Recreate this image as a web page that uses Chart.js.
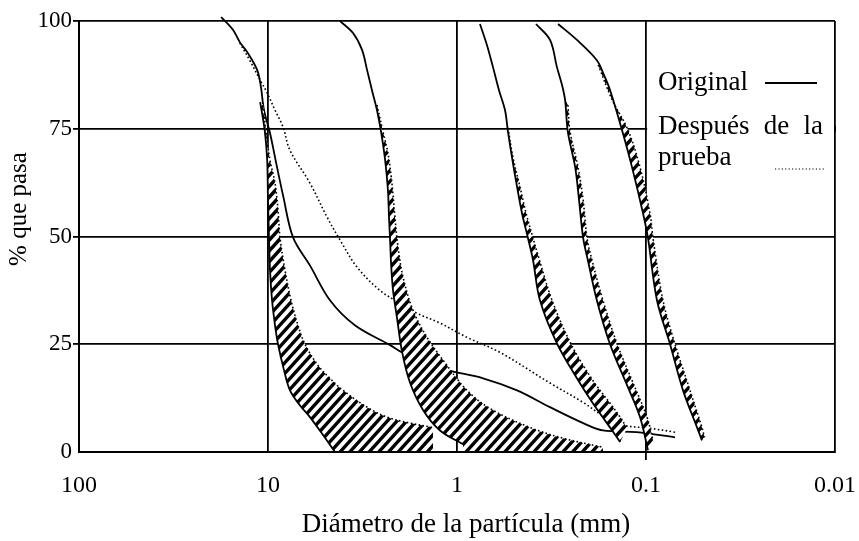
<!DOCTYPE html>
<html>
<head>
<meta charset="utf-8">
<script src="https://cdn.jsdelivr.net/npm/chart.js@4.4.0/dist/chart.umd.min.js"></script>
<style>
  html, body { margin: 0; padding: 0; background: #fff; }
  #wrap { width: 859px; height: 541px; }
</style>
</head>
<body>
<div id="wrap"><canvas id="c" width="859" height="541"></canvas></div>
<script>
// Particle size (mm) on a reversed log axis; ticks and their labels
const xTicks = [100, 10, 1, 0.1, 0.01];
const xTickLabels = ['100', '10', '1', '0.1', '0.01'];
const yTicks = [0, 25, 50, 75, 100];

const xTitle = 'Diámetro de la partícula (mm)';
const yTitle = '% que pasa';
const legendLabels = ['Original', 'Después de la prueba'];

// Grading curves as [diameter mm, % passing]
const mixOriginal = [[17.7,100.9],[15.3,97.9],[14.1,95.1],[12.8,92.6],[11.4,88.6],[10.9,84.7],[10.5,79.3],[9.76,74.0],[8.96,66.1],[8.33,59.6],[7.37,49.8],[6.00,43.3],[4.70,35.2],[3.47,29.4],[2.26,24.8],[1.95,23.1],[1.48,20.8],[1.13,19.0],[0.728,17.1],[0.481,14.3],[0.322,10.4],[0.215,6.7],[0.169,5.0],[0.112,4.6],[0.0702,3.4]];
const mixAfter = [[14.1,94.9],[12.5,90.9],[11.0,86.3],[10.1,83.3],[9.18,79.3],[8.33,75.4],[7.65,70.0],[6.00,62.4],[4.87,54.5],[4.16,49.2],[3.38,42.9],[2.56,37.5],[2.00,34.5],[1.63,32.2],[1.23,29.9],[0.885,26.6],[0.592,23.1],[0.322,16.0],[0.215,11.5],[0.161,7.8],[0.132,6.2],[0.0953,5.5],[0.0702,4.6]];

const soil1Original = [[11.0,81.2],[10.4,74.5],[10.1,67.7],[10.0,58.4],[9.88,49.8],[9.76,42.2],[9.52,35.2],[9.18,29.4],[8.85,25.0],[8.23,19.0],[7.65,14.3],[6.77,10.8],[6.00,8.1],[5.18,4.3],[4.42,0]];
const soil1After = [[10.6,80.5],[10.25,74.5],[9.76,67.7],[9.18,62.4],[8.85,56.1],[8.64,49.8],[8.13,42.2],[7.55,35.2],[6.94,29.4],[6.37,25.0],[5.44,20.1],[4.70,17.1],[4.01,14.3],[2.99,10.4],[2.35,8.1],[1.77,6.7],[1.34,5.7]];

const soil2Original = [[4.16,100],[3.55,97.2],[3.18,93.3],[2.99,88.6],[2.82,84.0],[2.65,79.3],[2.52,74.2],[2.40,67.7],[2.32,60.8],[2.29,54.5],[2.26,49.2],[2.23,43.3],[2.18,37.5],[2.08,31.3],[1.95,23.1],[1.77,16.0],[1.51,9.7],[1.23,5.0],[0.93,1.8]];
const soil2After = [[2.65,80.5],[2.46,74.2],[2.32,69.4],[2.21,62.4],[2.13,54.5],[2.05,47.5],[1.93,40.6],[1.71,32.9],[1.44,26.6],[1.13,20.1],[0.885,14.3],[0.669,10.1],[0.411,5.7],[0.275,3.2],[0.169,1.1]];

const soil3Original = [[0.756,99.3],[0.694,94.4],[0.645,89.3],[0.600,84.0],[0.557,79.3],[0.537,74.2],[0.512,68.4],[0.481,61.5],[0.453,55.4],[0.421,49.6],[0.396,44.5],[0.364,35.2],[0.296,25.2],[0.232,17.1],[0.191,11.3],[0.161,6.7],[0.137,2.3]];
const soil3After = [[0.537,75.2],[0.506,68.4],[0.464,61.5],[0.431,55.4],[0.396,49.6],[0.373,45.7],[0.314,35.2],[0.249,25.0],[0.191,16.6],[0.155,11.3],[0.137,8.1],[0.126,5.5]];

const soil4Original = [[0.382,99.3],[0.322,95.6],[0.296,89.3],[0.278,85.1],[0.268,81.7],[0.259,74.2],[0.237,66.1],[0.226,58.4],[0.215,49.6],[0.203,44.5],[0.182,35.2],[0.155,25.0],[0.126,15.5],[0.1076,8.1],[0.0976,0.4]];
const soil4After = [[0.259,80.5],[0.252,74.2],[0.229,66.1],[0.215,58.4],[0.205,49.6],[0.193,44.5],[0.169,35.2],[0.142,25.0],[0.117,16.0],[0.0988,8.1],[0.0918,2.7]];

const soil5Original = [[0.292,99.3],[0.232,95.6],[0.182,90.9],[0.167,87.5],[0.155,84.0],[0.134,74.7],[0.1186,66.1],[0.1037,55.4],[0.0976,49.6],[0.0875,35.2],[0.0746,25.0],[0.0637,14.3],[0.0537,5.7],[0.0506,2.7]];
const soil5After = [[0.179,89.8],[0.151,81.7],[0.1245,74.7],[0.1076,66.1],[0.0953,55.4],[0.0918,49.6],[0.0813,35.2],[0.0702,25.0],[0.0585,14.3],[0.0506,5.7],[0.049,3.4]];

const SERIF = "'Liberation Serif', 'Times New Roman', serif";
Chart.defaults.font.family = SERIF;
Chart.defaults.color = '#000';

const toXY = arr => arr.map(([d, p]) => ({ x: d, y: p }));
const solid = (data, order, extra) => Object.assign({
  data: toXY(data), order, borderColor: '#000', borderWidth: 1.8,
  pointRadius: 0, tension: 0.35, fill: false
}, extra || {});
const dotted = (data, order) => ({
  data: toXY(data), order, borderColor: '#000', borderWidth: 1.6,
  borderDash: [1.6, 2.4], pointRadius: 0, tension: 0.35, fill: false
});

const datasets = [
  solid(mixOriginal, 2, { clip: false }),
  dotted(mixAfter, 2),
  solid(soil1Original, 1), dotted(soil1After, 1),
  solid(soil2Original, 1), dotted(soil2After, 1),
  solid(soil3Original, 1), dotted(soil3After, 1),
  solid(soil4Original, 1), dotted(soil4After, 1),
  solid(soil5Original, 1), dotted(soil5After, 1)
];

// Bands between "original" and "after" curves that get the striped fill
const bands = [
  { orig: 2, after: 3, toBase: true },
  { orig: 4, after: 5, toBase: true },
  { orig: 6, after: 7, toBase: false },
  { orig: 8, after: 9, toBase: false },
  { orig: 10, after: 11, toBase: false }
];

function lineThrough(ctx, pts, i0, i1, reverse) {
  if (!reverse) {
    for (let i = i0; i < i1; i++) {
      const a = pts[i], b = pts[i + 1];
      ctx.bezierCurveTo(a.cp2x, a.cp2y, b.cp1x, b.cp1y, b.x, b.y);
    }
  } else {
    for (let i = i1; i > i0; i--) {
      const a = pts[i], b = pts[i - 1];
      ctx.bezierCurveTo(a.cp1x, a.cp1y, b.cp2x, b.cp2y, b.x, b.y);
    }
  }
}

// diagonal stripes inside the current clip
function stripe(ctx, area) {
  const ang = 48 * Math.PI / 180;
  const period = 7.2;
  const step = period / Math.cos(ang);
  const t = Math.tan(ang);
  const w = area.right - area.left;
  ctx.fillStyle = '#fff';
  ctx.fillRect(area.left, area.top, w, area.bottom - area.top);
  ctx.strokeStyle = '#000';
  ctx.lineWidth = 3.4;
  ctx.beginPath();
  for (let b = area.top; b < area.bottom + t * w + step; b += step) {
    ctx.moveTo(area.left, b);
    ctx.lineTo(area.right, b - t * w);
  }
  ctx.stroke();
}

let bandsDrawn = false;
const bandPlugin = {
  id: 'bands',
  beforeDatasetsDraw(chart) {
    bandsDrawn = false;
    // the 75 % line stops at the legend cell
    const { ctx, chartArea, scales } = chart;
    const y75 = scales.y.getPixelForValue(75);
    const x01 = scales.x.getPixelForValue(0.1);
    ctx.save();
    ctx.fillStyle = '#fff';
    ctx.fillRect(x01 + 1.2, y75 - 2, chartArea.right - x01 + 2, 4);
    ctx.strokeStyle = '#000';
    ctx.lineWidth = 2;
    ctx.beginPath();
    ctx.moveTo(chartArea.right, y75 - 3);
    ctx.lineTo(chartArea.right, y75 + 3);
    ctx.stroke();
    ctx.restore();
  },
  beforeDatasetDraw(chart, args) {
    if (bandsDrawn || chart.data.datasets[args.index].order !== 1) return;
    bandsDrawn = true;
    const { ctx, chartArea, scales } = chart;
    const y0 = scales.y.getPixelForValue(0);
    bands.forEach(b => {
      const mo = chart.getDatasetMeta(b.orig), ma = chart.getDatasetMeta(b.after);
      mo.dataset.updateControlPoints(chartArea, 'x');
      ma.dataset.updateControlPoints(chartArea, 'x');
      const po = mo.data, pa = ma.data;
      const startP = chart.data.datasets[b.after].data[0].y + 1.5;
      let s = 0;
      while (s < po.length - 1 && chart.data.datasets[b.orig].data[s].y > startP) s++;
      ctx.save();
      ctx.beginPath();
      ctx.rect(chartArea.left, chartArea.top, chartArea.right - chartArea.left, chartArea.bottom - chartArea.top - 1);
      ctx.clip();
      ctx.beginPath();
      ctx.moveTo(po[s].x, po[s].y);
      lineThrough(ctx, po, s, po.length - 1, false);
      const lo = po[po.length - 1], la = pa[pa.length - 1];
      if (b.toBase) {
        ctx.lineTo(lo.x, y0);
        ctx.lineTo(la.x, y0);
      }
      ctx.lineTo(la.x, la.y);
      lineThrough(ctx, pa, 0, pa.length - 1, true);
      ctx.closePath();
      ctx.clip();
      stripe(ctx, chartArea);
      ctx.restore();
    });
  },
  afterDraw(chart) {
    const { ctx } = chart;
    ctx.save();
    ctx.fillStyle = '#000';
    ctx.textAlign = 'center';
    ctx.textBaseline = 'middle';
    // x axis title
    ctx.font = '27px ' + SERIF;
    ctx.fillText(xTitle, 466, 525);
    // y axis title
    ctx.font = '25px ' + SERIF;
    ctx.translate(19, 209);
    ctx.rotate(-Math.PI / 2);
    ctx.fillText(yTitle, 0, 0);
    ctx.restore();

    // legend cell
    ctx.save();
    ctx.fillStyle = '#000';
    ctx.strokeStyle = '#000';
    ctx.font = '27px ' + SERIF;
    ctx.textBaseline = 'alphabetic';
    const lx = 658, rx = 823;
    ctx.fillText(legendLabels[0], lx, 90);
    ctx.lineWidth = 1.8;
    ctx.beginPath(); ctx.moveTo(765, 83); ctx.lineTo(817, 83); ctx.stroke();

    const words = legendLabels[1].split(' ');
    const first = words.slice(0, 3), rest = words.slice(3).join(' ');
    const widths = first.map(w => ctx.measureText(w).width);
    const gap = (rx - lx - widths.reduce((a, c) => a + c, 0)) / (first.length - 1);
    let x = lx;
    first.forEach((w, i) => { ctx.fillText(w, x, 134); x += widths[i] + gap; });
    ctx.fillText(rest, lx, 165);
    ctx.lineWidth = 1.2;
    ctx.setLineDash([1.2, 2.2]);
    ctx.beginPath(); ctx.moveTo(775, 169); ctx.lineTo(824, 169); ctx.stroke();
    ctx.restore();
  }
};

new Chart(document.getElementById('c'), {
  type: 'scatter',
  data: { datasets },
  plugins: [bandPlugin],
  options: {
    responsive: false,
    animation: false,
    devicePixelRatio: 1,
    showLine: true,
    layout: { padding: { top: 21, right: 24, left: 0, bottom: 0 } },
    plugins: { legend: { display: false }, tooltip: { enabled: false } },
    scales: {
      x: {
        type: 'logarithmic',
        reverse: true,
        min: 0.01,
        max: 100,
        afterBuildTicks: axis => { axis.ticks = xTicks.map(v => ({ value: v })); },
        afterFit: s => { s.height = 89; s.paddingLeft = 0; s.paddingRight = 0; },
        ticks: {
          autoSkip: false,
          maxRotation: 0,
          padding: 11,
          font: { size: 24 },
          color: '#000',
          callback: v => xTickLabels[xTicks.findIndex(t => Math.abs(t - v) < 1e-9 * Math.max(1, t))]
        },
        grid: {
          color: '#000',
          lineWidth: 1.8,
          tickLength: 8,
          tickColor: ctx => (ctx.tick && Math.abs(ctx.tick.value - 0.1) < 1e-9) ? '#000' : 'rgba(0,0,0,0)'
        },
        border: { display: true, color: '#000', width: 2 },
        title: { display: false }
      },
      y: {
        type: 'linear',
        min: 0,
        max: 100,
        afterBuildTicks: axis => { axis.ticks = yTicks.map(v => ({ value: v })); },
        afterFit: s => { s.width = 79; s.paddingTop = 0; s.paddingBottom = 0; },
        ticks: { padding: 1, font: { size: 23 }, color: '#000' },
        grid: {
          color: '#000',
          lineWidth: 1.8,
          tickLength: 6,
          tickColor: ctx => (ctx.tick && ctx.tick.value === 0) ? 'rgba(0,0,0,0)' : '#000'
        },
        border: { display: true, color: '#000', width: 2 }
      }
    }
  }
});
</script>
</body>
</html>
